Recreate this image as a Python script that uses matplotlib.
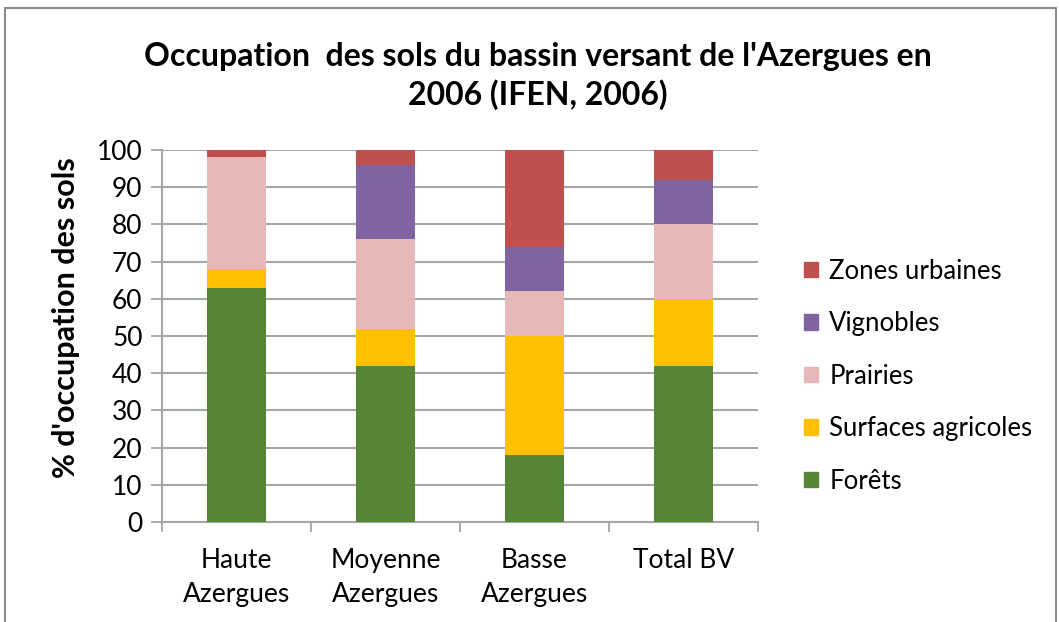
import matplotlib

matplotlib.use("Agg")
import matplotlib.pyplot as plt
from matplotlib.patches import Patch, Rectangle
import numpy as np

categories = ["Haute\nAzergues", "Moyenne\nAzergues", "Basse\nAzergues", "Total BV"]
series_names = ["Forêts", "Surfaces agricoles", "Prairies", "Vignobles", "Zones urbaines"]
forets = [63, 42, 18, 42]
agricoles = [5, 10, 32, 18]
prairies = [30, 24, 12, 20]
vignobles = [0, 20, 12, 12]
urbaines = [2, 4, 26, 8]
colors = ["#558536", "#FFC000", "#E6B9B8", "#8064A2", "#C0504D"]
yticks = list(range(0, 101, 10))

plt.rcParams["font.family"] = ["Lato", "DejaVu Sans"]

fig = plt.figure(figsize=(10.59, 6.22), dpi=100)
fig.patches.append(Rectangle((0.005, -0.1), 0.992, 1.087, transform=fig.transFigure,
                             fill=False, edgecolor="#8c8c8c", linewidth=1.5))
ax = fig.add_axes([0.153, 0.1608, 0.5628, 0.598])

x = np.arange(len(categories))
bottom = np.zeros(len(categories))
for name, vals, col in zip(series_names, [forets, agricoles, prairies, vignobles, urbaines], colors):
    ax.bar(x, vals, 0.4, bottom=bottom, color=col, label=name, zorder=3)
    bottom += np.array(vals)

ax.set_xlim(-0.5, len(categories) - 0.5)
ax.set_ylim(0, 100)
ax.set_yticks(yticks)
ax.set_xticks(x)
ax.set_xticklabels(categories, fontsize=19, linespacing=1.45, va="top")
ax.set_xticks(np.arange(len(categories) + 1) - 0.5, minor=True)
ax.tick_params(axis="x", which="major", length=0, pad=19)
ax.tick_params(axis="x", which="minor", length=7, color="#a6a6a6", width=1.3)
ax.tick_params(axis="y", length=8, color="#a6a6a6", width=1.3, labelsize=19, pad=6)
ax.grid(axis="y", color="#a6a6a6", linewidth=1.5, zorder=0)
for s in ["top", "right"]:
    ax.spines[s].set_visible(False)
for s in ["left", "bottom"]:
    ax.spines[s].set_color("#a6a6a6")
    ax.spines[s].set_linewidth(1.5)

ax.set_ylabel("% d'occupation des sols", fontsize=22, fontweight="bold")
ax.yaxis.set_label_coords(-0.138, 0.55)
fig.text(0.508, 0.878, "Occupation  des sols du bassin versant de l'Azergues en\n2006 (IFEN, 2006)",
         ha="center", va="center", fontsize=23, fontweight="bold", linespacing=1.3)

handles = [Patch(color=c) for c in colors][::-1]
fig.legend(handles, series_names[::-1], loc="center left", bbox_to_anchor=(0.737, 0.395),
           frameon=False, fontsize=18.5, handlelength=0.55, handleheight=0.55,
           handletextpad=0.45, labelspacing=1.07)

fig.savefig("out.png", dpi=100)
